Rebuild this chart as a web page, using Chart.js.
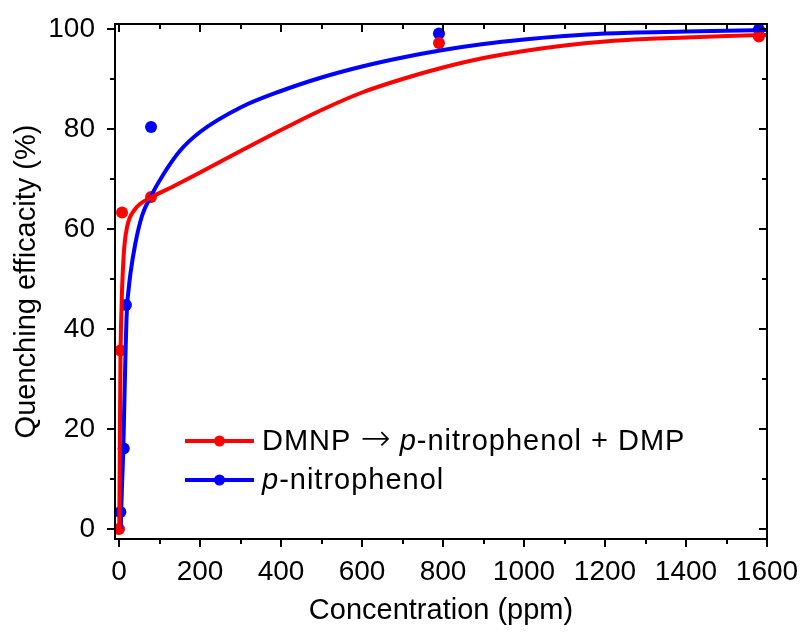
<!DOCTYPE html>
<html>
<head>
<meta charset="utf-8">
<script src="https://cdn.jsdelivr.net/npm/chart.js@4"></script>
<style>
html,body{margin:0;padding:0;background:#fff;}
#wrap{width:803px;height:634px;position:relative;}
</style>
</head>
<body>
<div id="wrap"><canvas id="c" width="803" height="634"></canvas></div>
<script>
// ---- data ----
const xTickValues = [0, 200, 400, 600, 800, 1000, 1200, 1400, 1600];
const yTickValues = [0, 20, 40, 60, 80, 100];

const seriesNames = ["DMNP \u2192 p-nitrophenol + DMP", "p-nitrophenol"];

// measured points
const redX  = [0, 3.3, 7.4, 79, 790, 1580];
const redY  = [0, 35.7, 63.3, 66.4, 97.2, 98.5];
const blueX = [3.3, 11.5, 17, 79, 790, 1580];
const blueY = [3.4, 16.1, 44.8, 80.4, 99.1, 99.9];

// fitted curves
const redFitX  = [0.5, 2, 3.5, 5, 7, 9, 13, 20, 40, 79, 131, 200, 300, 400, 500, 600, 700, 800, 900, 1000, 1100, 1200, 1300, 1400, 1500, 1600];
const redFitY  = [0, 18, 34, 41, 47, 51, 56.5, 60.5, 64, 66.3, 68.4, 71.3, 75.6, 79.8, 83.8, 87.3, 90, 92.3, 94.2, 95.6, 96.7, 97.5, 98, 98.3, 98.6, 98.8];
const blueFitX = [4, 7, 10.5, 13, 15.6, 18, 20, 24, 28, 40, 57, 77, 110, 150, 200, 300, 400, 500, 600, 700, 800, 900, 1000, 1100, 1200, 1400, 1600];
const blueFitY = [0, 8, 16, 25, 34, 41, 44.7, 48.2, 51, 57, 62.7, 66.3, 71, 75.6, 79.4, 84.3, 87.6, 90.3, 92.5, 94.3, 95.8, 97, 97.9, 98.6, 99.1, 99.5, 99.8];

const RED = "#ff0000", BLUE = "#0000ff";
const FONT = "'Liberation Sans', Arial, sans-serif";
const ARROW_FONT = "'DejaVu Sans', sans-serif";

function pts(xs, ys){ return xs.map((x,i)=>({x:x, y:ys[i]})); }

// frame + ticks on all four sides, and custom legend
const framePlugin = {
  id: 'frame',
  afterDatasetsDraw(chart){
    const ctx = chart.ctx, a = chart.chartArea;
    const xs = chart.scales.x, ys = chart.scales.y;
    ctx.save();
    ctx.strokeStyle = "#000";
    ctx.lineWidth = 2;
    ctx.strokeRect(a.left, a.top, a.right - a.left, a.bottom - a.top);
    ctx.beginPath();
    for (let v = 0; v <= 1600; v += 100){
      const px = Math.round(xs.getPixelForValue(v));
      const L = (v % 200 === 0) ? 8 : 5;
      ctx.moveTo(px, a.bottom); ctx.lineTo(px, a.bottom + L);
      ctx.moveTo(px, a.top); ctx.lineTo(px, a.top + L);
    }
    for (let v = 0; v <= 100; v += 10){
      const py = Math.round(ys.getPixelForValue(v));
      const L = (v % 20 === 0) ? 8 : 5;
      ctx.moveTo(a.left, py); ctx.lineTo(a.left - L, py);
      ctx.moveTo(a.right, py); ctx.lineTo(a.right - L, py);
    }
    ctx.stroke();

    // legend
    const lg = chart.options.plugins.frame;
    const colors = [RED, BLUE];
    ctx.textBaseline = "middle";
    seriesNames.forEach((name, i) => {
      const y = lg.y0 + i * lg.dy;
      ctx.strokeStyle = colors[i]; ctx.fillStyle = colors[i];
      ctx.lineWidth = 4;
      ctx.beginPath(); ctx.moveTo(lg.x0, y); ctx.lineTo(lg.x0 + lg.len, y); ctx.stroke();
      ctx.beginPath(); ctx.arc(lg.x0 + lg.len/2, y, 5.5, 0, Math.PI*2); ctx.fill();
      let tx = lg.x0 + lg.len + lg.gap;
      ctx.fillStyle = "#000";
      const parts = name.split(/(\u2192|\bp(?=-))/);
      parts.forEach(p => {
        if (!p) return;
        if (p === "\u2192") {
          ctx.font = "200 " + lg.arrowSize + "px " + ARROW_FONT;
          if ('letterSpacing' in ctx) ctx.letterSpacing = "0px";
        } else {
          ctx.font = (p === "p" ? "italic " : "") + lg.size + "px " + FONT;
          if ('letterSpacing' in ctx) ctx.letterSpacing = lg.spacing + "px";
        }
        ctx.fillText(p, tx, y + (p === "\u2192" ? 0 : 1));
        tx += ctx.measureText(p).width;
      });
      if ('letterSpacing' in ctx) ctx.letterSpacing = "0px";
    });
    ctx.restore();
  }
};

new Chart(document.getElementById('c'), {
  type: 'scatter',
  data: {
    datasets: [
      { data: pts(redFitX, redFitY), showLine: true, borderColor: RED, borderWidth: 4, pointRadius: 0, cubicInterpolationMode: 'monotone', fill: false },
      { data: pts(blueFitX, blueFitY), showLine: true, borderColor: BLUE, borderWidth: 4, pointRadius: 0, cubicInterpolationMode: 'monotone', fill: false },
      { data: pts(redX, redY), showLine: false, pointRadius: 6, pointBackgroundColor: RED, pointBorderWidth: 0, borderColor: RED },
      { data: pts(blueX, blueY), showLine: false, pointRadius: 6, pointBackgroundColor: BLUE, pointBorderWidth: 0, borderColor: BLUE }
    ]
  },
  options: {
    responsive: false,
    animation: false,
    layout: { padding: { top: 24, right: 36, left: 0, bottom: 0 } },
    plugins: {
      legend: { display: false },
      tooltip: { enabled: false },
      frame: { x0: 185, y0: 441, dy: 39, len: 69, gap: 8, size: 29, arrowSize: 36, spacing: 1 }
    },
    scales: {
      x: {
        type: 'linear', min: -10, max: 1600,
        afterBuildTicks: s => { s.ticks = xTickValues.map(v => ({value: v})); },
        afterFit: s => { s.height = 95; s.paddingLeft = 0; s.paddingRight = 0; },
        grid: { display: false }, border: { display: false },
        ticks: { color: "#000", font: { family: FONT, size: 28 }, padding: 8, maxRotation: 0, autoSkip: false, callback: v => String(v) },
        title: { display: true, text: "Concentration (ppm)", color: "#000", font: { family: FONT, size: 29 }, padding: { top: 0, bottom: 6 } }
      },
      y: {
        type: 'linear', min: -2, max: 101,
        afterBuildTicks: s => { s.ticks = yTickValues.map(v => ({value: v})); },
        afterFit: s => { s.width = 115; s.paddingTop = 0; s.paddingBottom = 0; },
        grid: { display: false }, border: { display: false },
        ticks: { color: "#000", font: { family: FONT, size: 28 }, padding: 12, autoSkip: false, callback: v => String(v) },
        title: { display: true, text: "Quenching efficacity (%)", color: "#000", font: { family: FONT, size: 29 }, padding: { top: 10, bottom: 0 } }
      }
    }
  },
  plugins: [framePlugin]
});
</script>
</body>
</html>
